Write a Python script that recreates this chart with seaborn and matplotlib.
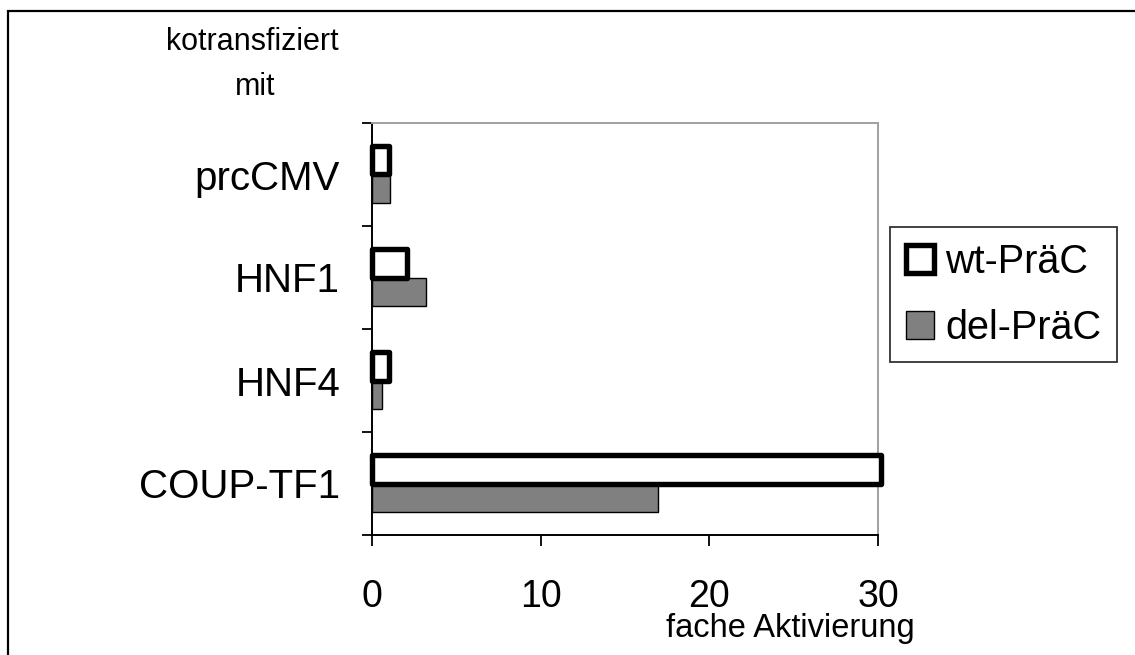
import matplotlib.pyplot as plt
import pandas as pd
import seaborn as sns
from matplotlib.patches import Patch, Rectangle

# Data
categories = ["prcCMV", "HNF1", "HNF4", "COUP-TF1"]
series = ["wt-PräC", "del-PräC"]
wt_values = [1.02, 2.1, 1.02, 30.15]
del_values = [1.04, 3.22, 0.6, 16.94]
x_ticks = [0, 10, 20, 30]

df = pd.DataFrame(
    {
        "category": categories * 2,
        "series": [series[0]] * len(categories) + [series[1]] * len(categories),
        "value": wt_values + del_values,
    }
)

sns.set_style("ticks")
plt.rcParams["font.family"] = ["Liberation Sans", "DejaVu Sans"]
plt.rcParams["text.color"] = "black"
plt.rcParams["xtick.labelcolor"] = "black"
plt.rcParams["ytick.labelcolor"] = "black"

W, H = 1135, 655
fig = plt.figure(figsize=(W / 100, H / 100), dpi=100)
ax = fig.add_axes([372 / W, 1 - 535 / H, 506 / W, 412 / H])

sns.barplot(
    data=df,
    y="category",
    x="value",
    hue="series",
    order=categories,
    hue_order=series,
    palette={series[0]: "white", series[1]: "#808080"},
    orient="h",
    width=0.56,
    errorbar=None,
    legend=False,
    ax=ax,
)

# Style bars: wt thick black outline, del grey with thin outline
for bar in ax.containers[0]:
    bar.set_edgecolor("black")
    bar.set_linewidth(3.9)
    bar.set_joinstyle("round")
    bar.set_clip_on(False)
    bar.set_zorder(3)
for bar in ax.containers[1]:
    bar.set_edgecolor("black")
    bar.set_linewidth(1.0)
    bar.set_clip_on(False)

ax.set_xlim(0, 30)
ax.set_ylim(3.5, -0.5)
ax.set_xticks(x_ticks)
ax.set_xticklabels([str(t) for t in x_ticks])
ax.set_yticks([-0.5, 0.5, 1.5, 2.5, 3.5])
ax.set_yticklabels([])
ax.set_yticks(range(len(categories)), labels=categories, minor=True)
ax.set_xlabel("")
ax.set_ylabel("")

ax.tick_params(axis="x", direction="out", length=8, width=1.3, pad=24, labelsize=27,
               color="black", labelcolor="black")
ax.tick_params(axis="y", which="major", direction="out", length=7.2, width=1.3, color="black")
ax.tick_params(axis="y", which="minor", length=0, pad=23, labelsize=29, labelcolor="black")

for side in ["left", "bottom"]:
    ax.spines[side].set_color("black")
    ax.spines[side].set_linewidth(1.4)
for side in ["top", "right"]:
    ax.spines[side].set_visible(True)
    ax.spines[side].set_color("#a0a0a0")
    ax.spines[side].set_linewidth(1.4)

# Legend
handles = [
    Patch(facecolor="white", edgecolor="black", linewidth=3.9, joinstyle="round"),
    Patch(facecolor="#808080", edgecolor="black", linewidth=1.0),
]
leg = fig.legend(
    handles,
    series,
    loc="upper left",
    bbox_to_anchor=(890 / W, 1 - 227 / H),
    borderaxespad=0,
    fontsize=28.5,
    frameon=True,
    fancybox=False,
    shadow=False,
    handlelength=0.7,
    handleheight=0.7,
    handletextpad=0.3,
    labelspacing=0.7,
    borderpad=0.4,
)
leg.get_frame().set_edgecolor("black")
leg.get_frame().set_linewidth(1.3)
for t in leg.get_texts():
    t.set_color("black")

# Annotations
fig.text(252 / W, 1 - 50 / H, "kotransfiziert", ha="center", va="baseline", fontsize=22)
fig.text(255 / W, 1 - 95 / H, "mit", ha="center", va="baseline", fontsize=22)
fig.text(790 / W, 1 - 637 / H, "fache Aktivierung", ha="center", va="baseline", fontsize=23.5)

# Outer frame (left and top edges visible)
fig.patches.append(
    Rectangle(
        (8 / W, -0.1), 1.2, 1.1 - 10.5 / H,
        transform=fig.transFigure, fill=False, edgecolor="black", linewidth=1.6,
    )
)

fig.savefig("out.png", dpi=100)
